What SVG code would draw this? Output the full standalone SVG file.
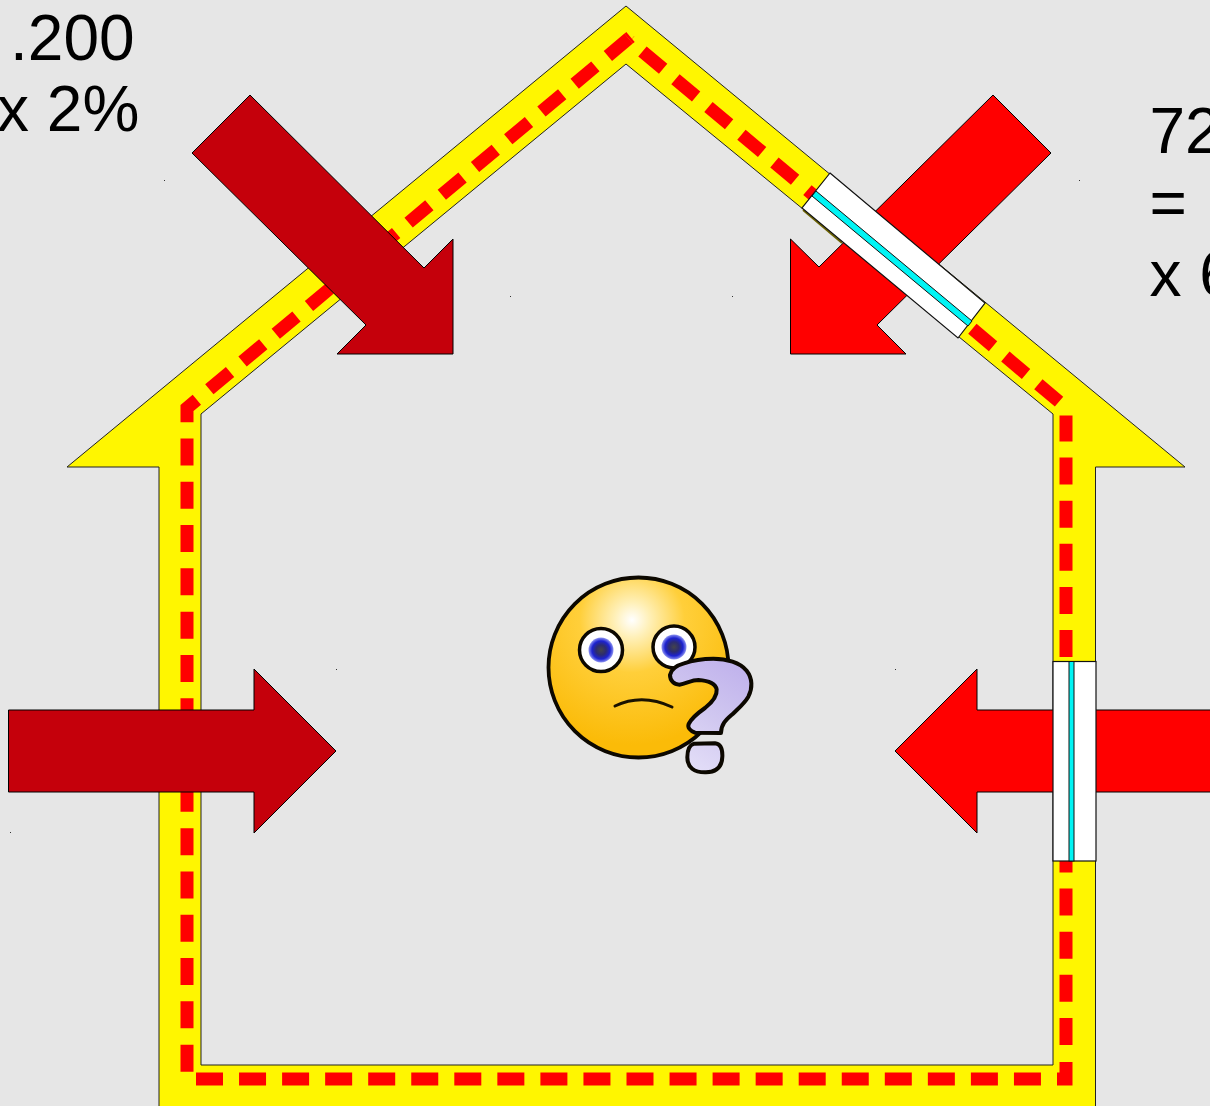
<svg xmlns="http://www.w3.org/2000/svg" width="1210" height="1106" viewBox="0 0 1210 1106">
<style>
.label{font-family:"Liberation Sans",Arial,sans-serif;font-size:64px;fill:#000}
.wall{fill:#fff600;fill-rule:evenodd;stroke:#222;stroke-width:1}
.dash{fill:none;stroke:#ff0000;stroke-width:13;stroke-linejoin:miter;stroke-miterlimit:10}
.dark{fill:#c5000b;stroke:#000;stroke-width:1}
.red{fill:#ff0000;stroke:#000;stroke-width:1}
.pane{fill:#fff;stroke:#111;stroke-width:1.2}
.glass{fill:#00f4f4;stroke:#111;stroke-width:1}
.speck{fill:#333}
.ink{stroke:#0c0800;stroke-linejoin:round}
</style>
<defs>
<radialGradient id="faceGrad" gradientUnits="userSpaceOnUse" cx="632" cy="620" r="125">
<stop offset="0" stop-color="#ffffff"/><stop offset="0.14" stop-color="#fff0b8"/><stop offset="0.42" stop-color="#ffcf3a"/><stop offset="1" stop-color="#fbbb08"/>
</radialGradient>
<linearGradient id="qGrad" gradientUnits="userSpaceOnUse" x1="640" y1="320" x2="460" y2="620">
<stop offset="0" stop-color="#c0b2ec"/><stop offset="0.5" stop-color="#d0c7f0"/><stop offset="1" stop-color="#e4dff8"/>
</linearGradient>
<radialGradient id="irisGrad"><stop offset="0" stop-color="#44444a"/><stop offset="0.4" stop-color="#2c2c70"/><stop offset="0.72" stop-color="#1c22d0"/><stop offset="1" stop-color="#8d93f0"/></radialGradient>
</defs>
<rect width="1210" height="1106" fill="#e6e6e6"/>
<g id="specks">
<rect class="speck" x="164" y="180" width="1" height="1"/><rect class="speck" x="1079" y="180" width="1" height="1"/>
<rect class="speck" x="510" y="296" width="1" height="1"/><rect class="speck" x="732" y="296" width="1" height="1"/>
<rect class="speck" x="336" y="669" width="1" height="1"/><rect class="speck" x="895" y="669" width="1" height="1"/>
<rect class="speck" x="10" y="832" width="1" height="1"/>
</g>
<g id="house">
<path class="wall" d="M626,6 L1185,467 H1095.500 V1112 H159 V467 H67 Z M626,64 L1053,414 V1065 H201 V414 Z"/>
<g id="insulation-line">
<path class="dash" d="M630.500,37 L628.600,38.600"/>
<path class="dash" stroke-dasharray="27 16.300" d="M628.600,38.600 L187,408 V1075"/>
<path class="dash" stroke-dasharray="27 16.050" d="M196,1079 H1041.500"/>
<path class="dash" stroke-dasharray="26 17.100 27 16.100 27 16.100 27 16.100 27 16.100 27 16.100 27 16.100 27 16.100 27 16.100 27 16.100 27 16.100 27 16.100 27 16.100 27 16.100 27 16.100" d="M1057,1079 H1066 V407.500 L630,41"/>
</g>
</g>
<g id="arrows">
<polygon id="arrow-roof-left" class="dark" points="250,95 424,268 453,239 453,354 337,354 366,325 192,153"/>
<polygon id="arrow-roof-right" class="red" points="993,95 1051,153 877,325 906,354 790.500,354 790.500,239 819,267"/>
<polygon id="arrow-wall-left" class="dark" points="8.500,710 254,710 254,669 336,751 254,833 254,792 8.500,792"/>
<polygon id="arrow-wall-right" class="red" points="895,751 977,669 977,710 1215,710 1215,792 977,792 977,833"/>
<path d="M803,210 L842,243" fill="none" stroke="#6b6200" stroke-width="1.800"/>
</g>
<g id="window-roof">
<polygon class="pane" points="830,173 985,303 958,338 802,208"/>
<polygon class="glass" points="816,191 972,321 968,326 812,196"/>
</g>
<g id="window-wall">
<rect class="pane" x="1053" y="661.500" width="43" height="199.500"/>
<rect class="glass" x="1069" y="661.500" width="5" height="199.500"/>
</g>
<g id="smiley">
<circle cx="638.500" cy="667.500" r="90" fill="url(#faceGrad)" stroke="#0c0800" stroke-width="3.800"/>
<circle cx="601" cy="650" r="21.500" fill="#fff" stroke="#0c0800" stroke-width="3.500"/>
<circle cx="601" cy="650" r="12.500" fill="url(#irisGrad)"/>
<circle cx="674" cy="647" r="21" fill="#fff" stroke="#0c0800" stroke-width="3.500"/>
<circle cx="674" cy="647" r="12.500" fill="url(#irisGrad)"/>
<path d="M615,706 Q642,693 672,707" fill="none" stroke="#1a1200" stroke-width="3" stroke-linecap="round"/>
<g transform="translate(530,560) scale(0.33333)">
<path class="ink" fill="url(#qGrad)" stroke-width="12" d="M420,345 C424,325 440,316 462,310 C490,300 520,296 550,296 C590,296 630,308 650,332 C668,355 668,385 655,410 C642,432 622,448 608,462 C590,478 574,490 573,519 L495,518 C480,512 472,502 476,492 C486,472 505,458 525,444 C545,428 562,408 560,388 C556,370 535,362 505,360 C485,360 470,370 448,374 C432,374 420,362 420,345 Z"/>
<path class="ink" fill="url(#qGrad)" stroke-width="12" d="M492,551 L555,550 C572,552 578,566 577,590 C576,620 560,636 528,637 C492,638 472,622 472,592 C472,570 476,556 492,551 Z"/>
</g>
</g>
<g id="labels">
<text class="label" x="10" y="60">.200</text>
<text class="label" x="-3" y="131">x 2%</text>
<text class="label" x="1149.500" y="153">72</text>
<text class="label" x="1149.500" y="225">=</text>
<text class="label" x="1149.500" y="296">x 6</text>
</g>
</svg>
